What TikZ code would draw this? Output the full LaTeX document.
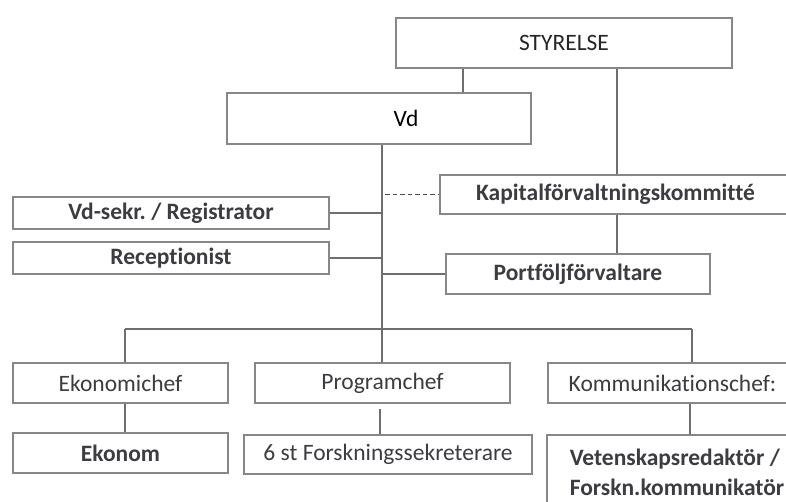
\documentclass[tikz,border=0pt]{standalone}
\usepackage{fontspec}
\setmainfont{Carlito}[Ligatures=NoCommon]
\usepackage{xcolor}
\usetikzlibrary{positioning}
\definecolor{boxgray}{RGB}{135, 135, 135}
\definecolor{linegray}{RGB}{110, 110, 110}
\definecolor{textgray}{RGB}{60, 60, 65}
\frenchspacing

\begin{document}
\begin{tikzpicture}[
  x=1pt, y=-1pt,
  every node/.style={font=\fontsize{23.5}{30}\selectfont, text=textgray},
  box/.style={draw=boxgray, line width=1.3pt, fill=white, align=center, inner sep=2pt},
  strong/.style={font=\fontsize{23.5}{30}\selectfont\bfseries},
  conn/.style={draw=linegray, line width=1.3pt},
  dashline/.style={draw=linegray!70!black, line width=1.6pt, dash pattern=on 4.5pt off 3pt}
]
  \useasboundingbox (0,0) rectangle (786,501);

  % Ledning
  \node[box, minimum width=336pt, minimum height=50pt, text=black!85] (styrelse) at (564,43) {STYRELSE};
  \node[box, minimum width=304pt, minimum height=51pt, text=black] (vd) at (379,118.5) {\hspace*{54pt}Vd};

  % Kapitalförvaltning
  \node[box, strong, minimum width=351pt, minimum height=39pt] (kapital) at (615.5,194.5) {Kapitalförvaltningskommitté};
  \node[box, strong, minimum width=264pt, minimum height=40pt] (portf) at (578,274) {Portföljförvaltare};

  % Stab
  \node[box, strong, minimum width=316pt, minimum height=32pt] (vdsekr) at (171,213) {Vd-sekr. / Registrator};
  \node[box, strong, minimum width=316pt, minimum height=32pt] (recep) at (171,258) {Receptionist};

  % Chefer
  \node[box, minimum width=215pt, minimum height=40pt] (ekchef) at (120.5,383) {Ekonomichef};
  \node[box, minimum width=255pt, minimum height=40pt] (progchef) at (382.5,383) {Programchef};
  \node[box, minimum width=249pt, minimum height=40pt] (kommchef) at (672.5,383) {Kommunikationschef:};

  % Medarbetare
  \node[box, strong, minimum width=215pt, minimum height=40pt] (ekonom) at (120.5,453) {Ekonom};
  \node[box, minimum width=288pt, minimum height=39pt] (forsk) at (388,454.5) {6 st Forskningssekreterare};
  \node[box, strong, minimum width=260pt, minimum height=74pt, align=left] (vetensk) at (677,472) {Vetenskapsredaktör /\\Forskn.kommunikatör};

  % Hjälpkoordinater
  \coordinate (c1) at (463,0);
  \coordinate (c2) at (617,0);
  \coordinate (tr) at (382,0);
  \coordinate (busL) at (125,329);
  \coordinate (busR) at (692,329);
  \coordinate (c3) at (690,0);

  \draw[conn] (styrelse.south -| c1) -- (vd.north -| c1);
  \draw[conn] (styrelse.south -| c2) -- (kapital.north -| c2);
  \draw[conn] (kapital.south -| c2) -- (portf.north -| c2);
  \draw[conn] (vd.south -| tr) -- (progchef.north -| tr);
  \draw[dashline] ([xshift=3pt]kapital.west -| tr) -- (kapital.west);
  \draw[conn] (vdsekr.east) -- (vdsekr.east -| tr);
  \draw[conn] (recep.east) -- (recep.east -| tr);
  \draw[conn] (portf.west -| tr) -- (portf.west);
  \draw[conn] (busL) -- (busR);
  \draw[conn] (busL) -- (ekchef.north -| busL);
  \draw[conn] (busR) -- (kommchef.north -| busR);
  \draw[conn] (ekchef.south -| busL) -- (ekonom.north -| busL);
  \draw[conn, shorten <=5pt] (progchef.south -| 380,0) -- (forsk.north -| 380,0);
  \draw[conn] (kommchef.south -| c3) -- (vetensk.north -| c3);

\end{tikzpicture}
\end{document}
